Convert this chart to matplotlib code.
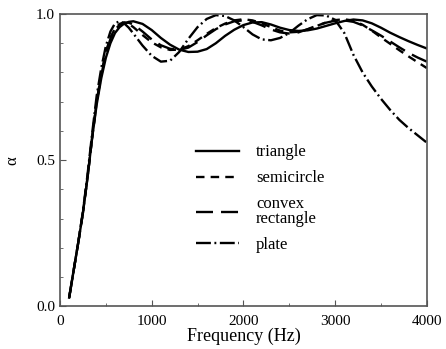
import matplotlib.pyplot as plt
from matplotlib.ticker import MultipleLocator

plt.rcParams['font.family'] = ['Liberation Serif', 'DejaVu Serif']

freq = [100, 150, 200, 250, 300, 350, 400, 450, 500, 550, 600, 650, 700, 750, 800,
        900, 1000, 1100, 1200, 1300, 1400, 1500, 1600, 1700, 1800, 1900, 2000,
        2100, 2200, 2300, 2400, 2500, 2600, 2700, 2800, 2900, 3000,
        3100, 3200, 3300, 3400, 3500, 3600, 3700, 3800, 3900, 4000]

triangle = [0.03, 0.125, 0.22, 0.32, 0.44, 0.575, 0.69, 0.78, 0.85, 0.90, 0.935, 0.955, 0.967, 0.973, 0.975,
            0.966, 0.945, 0.918, 0.895, 0.878, 0.870, 0.871, 0.880, 0.900, 0.925, 0.946, 0.962,
            0.971, 0.972, 0.964, 0.953, 0.945, 0.942, 0.944, 0.950, 0.959, 0.968,
            0.976, 0.981, 0.978, 0.968, 0.953, 0.936, 0.921, 0.907, 0.894, 0.882]

semicircle = [0.03, 0.125, 0.22, 0.32, 0.44, 0.575, 0.70, 0.795, 0.87, 0.92, 0.95, 0.966, 0.971, 0.966, 0.955,
              0.928, 0.903, 0.886, 0.877, 0.878, 0.890, 0.910, 0.932, 0.952, 0.967, 0.978, 0.982,
              0.978, 0.968, 0.955, 0.943, 0.937, 0.939, 0.947, 0.959, 0.971, 0.979,
              0.982, 0.977, 0.963, 0.943, 0.920, 0.898, 0.876, 0.855, 0.835, 0.815]

convex = [0.03, 0.125, 0.22, 0.32, 0.44, 0.575, 0.70, 0.79, 0.865, 0.915, 0.946, 0.963, 0.970, 0.970, 0.964,
          0.940, 0.913, 0.893, 0.881, 0.877, 0.885, 0.904, 0.927, 0.948, 0.964, 0.975, 0.978,
          0.973, 0.961, 0.947, 0.937, 0.933, 0.937, 0.948, 0.960, 0.970, 0.977,
          0.978, 0.973, 0.961, 0.944, 0.926, 0.906, 0.886, 0.867, 0.851, 0.837]

plate = [0.03, 0.125, 0.22, 0.325, 0.45, 0.59, 0.72, 0.815, 0.89, 0.94, 0.968, 0.975, 0.968, 0.953, 0.933,
         0.892, 0.857, 0.837, 0.840, 0.870, 0.915, 0.955, 0.983, 0.996, 0.993, 0.978, 0.955,
         0.930, 0.913, 0.910, 0.918, 0.935, 0.960, 0.982, 0.996, 0.995, 0.980,
         0.935, 0.860, 0.800, 0.752, 0.710, 0.672, 0.638, 0.610, 0.585, 0.560]

fig = plt.figure(figsize=(4.46, 3.49), dpi=100)
ax = fig.add_axes([0.1345, 0.122, 0.8225, 0.838])

lw = 1.7
ax.plot(freq, triangle, color='black', lw=lw, linestyle='-', label='triangle')
ax.plot(freq, semicircle, color='black', lw=lw, linestyle=(0, (3.6, 2.6)), label='semicircle')
ax.plot(freq, convex, color='black', lw=lw, linestyle=(0, (7.2, 3.4)), label='convex\nrectangle')
ax.plot(freq, plate, color='black', lw=lw, linestyle=(0, (6.3, 1.5, 0.8, 1.5)), label='plate')

ax.set_xlim(0, 4000)
ax.set_ylim(0, 1.0)
ax.xaxis.set_major_locator(MultipleLocator(1000))
ax.xaxis.set_minor_locator(MultipleLocator(500))
ax.yaxis.set_major_locator(MultipleLocator(0.5))
ax.yaxis.set_minor_locator(MultipleLocator(0.1))
ax.tick_params(which='both', direction='in', labelsize=11, color='#555555')
ax.tick_params(axis='x', pad=6)
ax.tick_params(which='major', length=4)
ax.tick_params(which='minor', length=2)
for s in ax.spines.values():
    s.set_color('#555555')
    s.set_linewidth(1.2)

ax.set_xlabel('Frequency (Hz)', fontsize=13, labelpad=0)
ax.set_ylabel('α', fontsize=12, labelpad=11)

leg = ax.legend(loc='upper left', bbox_to_anchor=(0.33, 0.605), frameon=False, fontsize=12,
                handlelength=2.6, labelspacing=0.6, handletextpad=1.0)
for t in leg.get_texts():
    t.set_linespacing(0.85)

fig.savefig('out.png', dpi=100)
